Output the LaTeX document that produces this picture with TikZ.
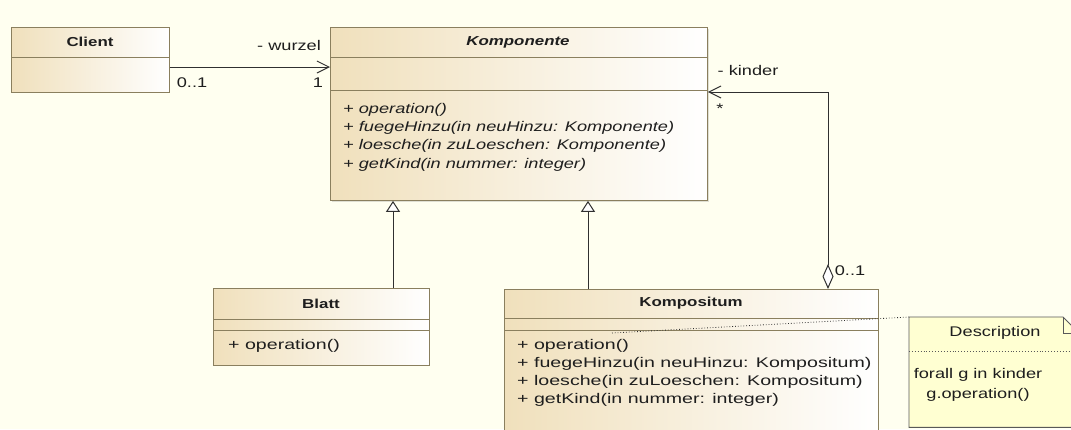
\documentclass[tikz,border=0pt]{standalone}
\usepackage{fontspec}
\setmainfont[FakeStretch=1.3]{Liberation Sans}
\newfontfamily\breitfont[FakeStretch=1.4]{Liberation Sans}
\usetikzlibrary{arrows.meta,calc,shadows}

\definecolor{hintergrund}{HTML}{FFFFF0}
\definecolor{kastenbeige}{HTML}{F0E0BC}
\definecolor{rahmen}{HTML}{8A7F5E}
\definecolor{linie}{HTML}{303030}
\definecolor{schrift}{HTML}{1E1E1E}
\definecolor{notizgelb}{HTML}{FFFFD2}

\tikzset{
  klasse/.style={draw=rahmen, line width=0.9pt, left color=kastenbeige, right color=white, anchor=north west, inner sep=0pt},
  trenn/.style={draw=rahmen, line width=0.9pt},
  klname/.style={font=\fontsize{13}{15}\selectfont\bfseries, text=schrift, inner sep=0pt},
  op/.style={font=\breitfont\fontsize{14}{18}\selectfont, text=schrift, anchor=base west, inner sep=0pt},
  rolle/.style={font=\fontsize{14}{16}\selectfont, text=schrift, inner sep=0pt},
  erbt/.style={draw=linie, line width=1pt, -{Triangle[length=11pt,width=14pt,fill=white]}},
  assoz/.style={draw=linie, line width=1pt, -{Straight Barb[length=12pt,width=12pt]}},
  aggr/.style={draw=linie, line width=1pt, {Diamond[length=25pt,width=11pt,fill=white]}-{Straight Barb[length=12pt,width=12pt]}},
  anhang/.style={draw=linie, dotted, line width=0.8pt},
  notizrand/.style={draw=linie!80, line width=0.9pt}
}

\begin{document}
\begin{tikzpicture}[x=1pt,y=-1pt]
  \path[use as bounding box, fill=hintergrund] (0,0) rectangle (1071,429);
  \clip (0,0) rectangle (1071,429);

  %Client
  \node[klasse, minimum width=158pt, minimum height=65pt] (client) at (11,27) {};
  \draw[trenn] ([yshift=-30pt]client.north west) -- ([yshift=-30pt]client.north east);
  \node[klname] (clientname) at (90,42) {Client};

  %Komponente
  \node[klasse, drop shadow={shadow xshift=2pt, shadow yshift=-2pt, opacity=.25}, minimum width=377pt, minimum height=173pt] (komponente) at (330,27) {};
  \draw[trenn] ([yshift=-30pt]komponente.north west) -- ([yshift=-30pt]komponente.north east);
  \draw[trenn] ([yshift=-63.5pt]komponente.north west) -- ([yshift=-63.5pt]komponente.north east);
  \node[klname, font=\fontsize{13}{15}\selectfont\bfseries\itshape] (komponentename) at (518,42) {Komponente};
  \foreach \txt [count=\i from 0] in {{+ operation()}, {+ fuegeHinzu(in neuHinzu: Komponente)}, {+ loesche(in zuLoeschen: Komponente)}, {+ getKind(in nummer: integer)}}
    \node[op, font=\fontsize{14}{18}\selectfont\itshape] (komponenteop\i) at (343,113.3+18.33*\i) {\txt};

  %Blatt
  \node[klasse, minimum width=216pt, minimum height=77pt] (blatt) at (213,288) {};
  \draw[trenn] ([yshift=-31pt]blatt.north west) -- ([yshift=-31pt]blatt.north east);
  \draw[trenn] ([yshift=-42.5pt]blatt.north west) -- ([yshift=-42.5pt]blatt.north east);
  \node[klname] (blattname) at (321,303.5) {Blatt};
  \node[op] (blattop) at (228,349) {+ operation()};

  %Kompositum
  \node[klasse, minimum width=374pt, minimum height=160pt] (kompositum) at (504,289) {};
  \draw[trenn] ([yshift=-29pt]kompositum.north west) -- ([yshift=-29pt]kompositum.north east);
  \draw[trenn] ([yshift=-41.5pt]kompositum.north west) -- ([yshift=-41.5pt]kompositum.north east);
  \node[klname] (kompositumname) at (691,303.5) {Kompositum};
  \foreach \txt [count=\i from 0] in {{+ operation()}, {+ fuegeHinzu(in neuHinzu: Kompositum)}, {+ loesche(in zuLoeschen: Kompositum)}, {+ getKind(in nummer: integer)}}
    \node[op] (kompositumop\i) at (517,349+18.33*\i) {\txt};

  %Vererbung
  \coordinate (blattlinie) at (393,0);
  \coordinate (kompositumlinie) at (588,0);
  \draw[erbt] (blatt.north -| blattlinie) -- (komponente.south -| blattlinie);
  \draw[erbt] (kompositum.north -| kompositumlinie) -- (komponente.south -| kompositumlinie);

  %Client -> Komponente
  \coordinate (wurzelhoehe) at (0,67);
  \draw[assoz] (client.east |- wurzelhoehe) -- (komponente.west |- wurzelhoehe);
  \node[rolle] (wurzel) at (289,45) {- wurzel};
  \node[rolle] (clientmult) at (192,83) {0..1};
  \node[rolle] (wurzelmult) at (318,83) {1};

  %Kompositum <>-> Komponente
  \coordinate (kinderecke) at (828,92);
  \draw[aggr] (kompositum.north -| kinderecke) -- (kinderecke) -- (komponente.east |- kinderecke);
  \node[rolle] (kinder) at (748,70) {- kinder};
  \node[rolle] (kindermult) at (720,109) {*};
  \node[rolle] (kompositummult) at (850,271) {0..1};

  %Notiz
  \node[anchor=north west, minimum width=170pt, minimum height=110pt, inner sep=0pt] (notiz) at (909,317) {};
  \filldraw[notizrand, fill=notizgelb] (notiz.north west) -- ++(154,0) -- ++(16,16) -- (notiz.south east) -- (notiz.south west) -- cycle;
  \draw[notizrand] ($(notiz.north west)+(154,0)$) |- ++(16,16);
  \draw[notizrand, dotted] ($(notiz.north west)+(0,34)$) -- ($(notiz.north east)+(0,34)$);
  \node[rolle] (notiztitel) at (995,333) {Description};
  \node[rolle, align=center, font=\fontsize{14}{20}\selectfont] (notiztext) at (978,385) {forall g in kinder\\g.operation()};
  \coordinate (kompositumanker) at (612,333);
  \draw[anhang] (kompositumanker) -- (notiz.north west);
\end{tikzpicture}
\end{document}
